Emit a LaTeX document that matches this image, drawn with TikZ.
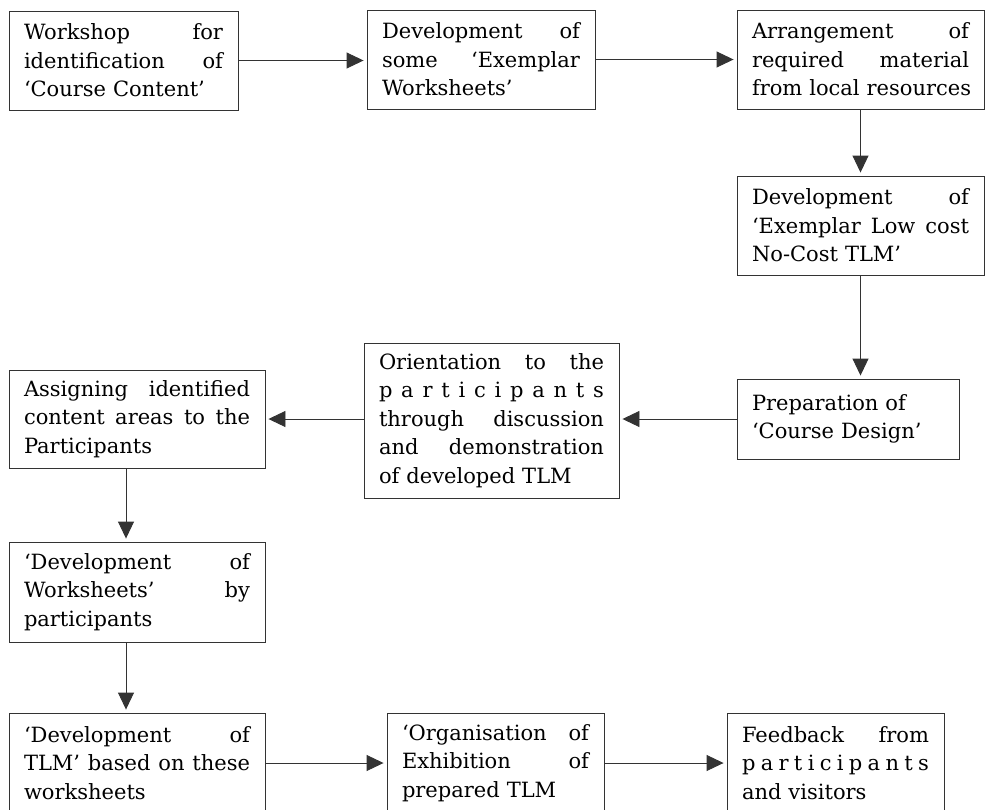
\documentclass[tikz,border=0pt]{standalone}
\usepackage{fontspec}
\setmainfont{DejaVu Serif}
\usetikzlibrary{arrows.meta}
\newcommand{\jl}[1]{\leavevmode\hbox to \hsize{\spaceskip=.1em plus 1fil\relax #1}\\}

\begin{document}
\begin{tikzpicture}[x=1pt,y=-1pt,>={Triangle[length=17pt,width=16pt]},
  stage/.style={draw=black!80,line width=0.9pt,inner xsep=15pt,inner ysep=0pt,
    align=left,text=black,font=\fontsize{21}{28.5}\selectfont},
  link/.style={line width=0.9pt,draw=black!80,shorten >=3pt}]
\useasboundingbox (0,0) rectangle (985,809);
% top row
\node[stage,text width=199pt,minimum height=99pt] (ws) at (123.5,60.5)
  {\jl{Workshop for}\jl{identification of}‘Course Content’};
\node[stage,text width=198pt,minimum height=99pt] (dw) at (481,59.5)
  {\jl{Development of}\jl{some ‘Exemplar}Worksheets’};
\node[stage,text width=217pt,minimum height=99pt] (arr) at (860.5,59.5)
  {\jl{Arrangement of}\jl{required material}\mbox{from local resources}};
\node[stage,text width=217pt,minimum height=99pt] (dtlm) at (860.5,225.5)
  {\jl{Development of}\jl{‘Exemplar Low cost}No-Cost TLM’};
% middle row
\node[stage,text width=192pt,minimum height=80pt] (prep) at (848,419)
  {Preparation of\\‘Course Design’};
\node[stage,text width=225pt,minimum height=155pt] (ori) at (491.5,420.5)
  {\jl{Orientation to the}\jl{p a r t i c i p a n t s}\jl{through discussion}\jl{and demonstration}of developed TLM};
\node[stage,text width=226pt,minimum height=98pt] (asg) at (137,419)
  {\jl{Assigning identified}\jl{content areas to the}Participants};
\node[stage,text width=226pt,minimum height=100pt] (wsp) at (137,592)
  {\jl{‘Development of}\jl{Worksheets’ by}participants};
% bottom row
\node[stage,text width=226pt,minimum height=100pt] (tlm) at (137,763)
  {\jl{‘Development of}\jl{TLM’ based on these}worksheets};
\node[stage,text width=187pt,minimum height=100pt] (org) at (495.5,763)
  {\jl{‘Organisation of}\jl{Exhibition of}prepared TLM};
\node[stage,text width=187pt,minimum height=100pt] (fb) at (835.5,763)
  {\jl{Feedback from}\jl{p a r t i c i p a n t s}and visitors};
% connectors
\draw [link,->] (ws.east) -- (dw.west |- ws.east);
\draw [link,->] (dw.east) -- (arr.west |- dw.east);
\draw [link,->] (arr) -- (dtlm);
\draw [link,->] (dtlm.south) -- (dtlm.south |- prep.north);
\draw [link,->] (prep.west) -- (ori.east |- prep.west);
\draw [link,->] (ori.west |- asg.east) -- (asg.east);
\draw [link,->] ([xshift=-11pt]asg.south) -- ([xshift=-11pt]wsp.north);
\draw [link,->] ([xshift=-11pt]wsp.south) -- ([xshift=-11pt]tlm.north);
\draw [link,->] (tlm.east) -- (org.west |- tlm.east);
\draw [link,->] (org.east) -- (fb.west |- org.east);
\end{tikzpicture}
\end{document}
